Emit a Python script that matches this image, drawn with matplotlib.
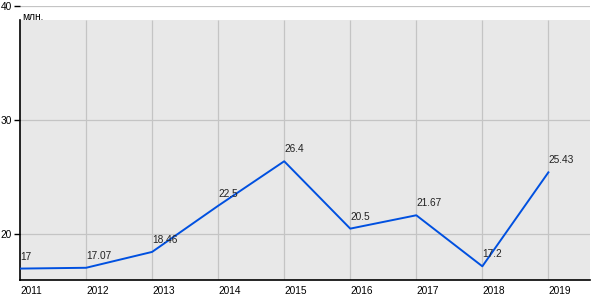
import matplotlib
matplotlib.use("Agg")
import matplotlib.pyplot as plt

# data
years = [2011, 2012, 2013, 2014, 2015, 2016, 2017, 2018, 2019]
values = [17, 17.07, 18.46, 22.5, 26.4, 20.5, 21.67, 17.2, 25.43]
point_labels = ["17", "17.07", "18.46", "22.5", "26.4", "20.5", "21.67", "17.2", "25.43"]
y_ticks = [20, 30, 40]
unit_label = "млн."

plt.rcParams["font.family"] = ["Liberation Sans", "DejaVu Sans"]

fig = plt.figure(figsize=(6, 3), dpi=100)
ax = fig.add_axes([20 / 600, 20 / 300, 570 / 600, 274 / 300])

ymin, ymax = 16, 40
shade_top = 38.8  # grey panel stops a little below the 40 line
ax.set_xlim(2011, 2019.63)
ax.set_ylim(ymin, ymax)
ax.set_facecolor("white")
ax.axhspan(ymin, shade_top, color="#e8e8e8", zorder=0, lw=0)

# grid
for y in y_ticks:
    ax.axhline(y, color="#c4c4c4", lw=0.9, zorder=1)
ax.vlines(years[1:], ymin, shade_top, color="#c4c4c4", lw=0.9, zorder=1)

ax.plot(years, values, color="#0050e0", lw=1.4, zorder=3)
for x, y, s in zip(years, values, point_labels):
    ax.annotate(s, (x, y), xytext=(0, 5), textcoords="offset points",
                ha="left", va="bottom", fontsize=7.3, color="#222222", zorder=4)

for side in ("top", "right"):
    ax.spines[side].set_visible(False)
ax.spines["left"].set_bounds(ymin, shade_top)
ax.spines["left"].set_linewidth(1.2)
ax.spines["bottom"].set_linewidth(1.2)

ax.set_yticks(y_ticks)
ax.set_xticks(years)
ax.tick_params(axis="y", length=4, width=1, labelsize=7.3, pad=2)
ax.tick_params(axis="x", length=0, labelsize=7.3, pad=4)
for lbl in ax.get_xticklabels():
    lbl.set_horizontalalignment("left")

ax.text(2011.03, 39.5, unit_label, fontsize=7.3, va="top", ha="left", zorder=5)

fig.savefig("out.png", dpi=100)
